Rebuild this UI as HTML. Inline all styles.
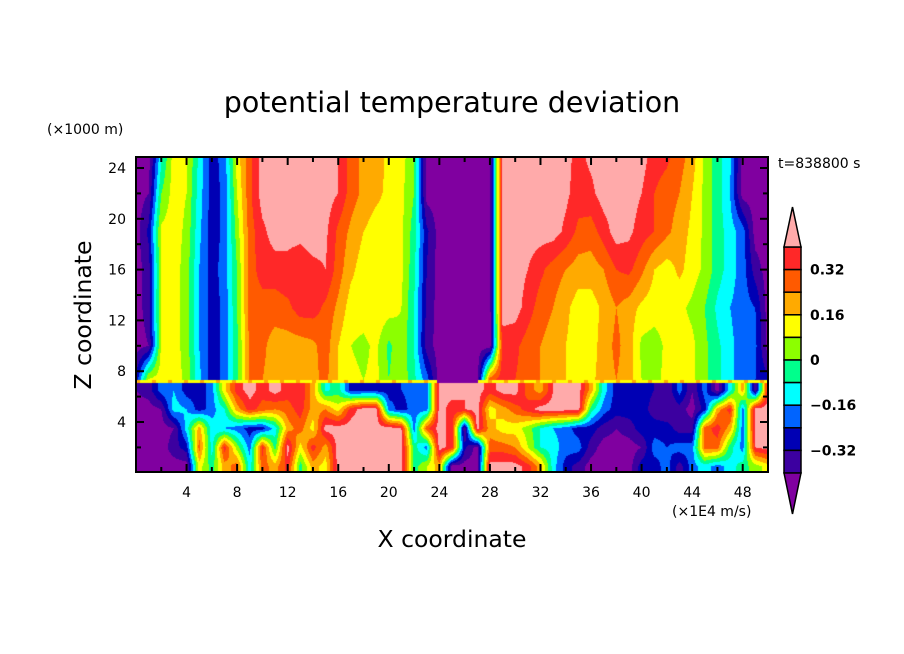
<!DOCTYPE html>
<html><head><meta charset="utf-8">
<style>
html,body{margin:0;padding:0;background:#fff;}
#wrap{position:relative;width:904px;height:654px;overflow:hidden;font-family:"Liberation Sans","DejaVu Sans",sans-serif;}
#heat{position:absolute;left:136px;top:157px;}
#ov{position:absolute;left:0;top:0;}
</style></head>
<body>
<div id="wrap">
<canvas id="heat" width="632" height="316"></canvas>
<svg id="ov" width="904" height="654" xmlns="http://www.w3.org/2000/svg">
<text x="452" y="112" text-anchor="middle" font-size="28.5" font-family="DejaVu Sans, Liberation Sans, sans-serif">potential temperature deviation</text>
<text x="47" y="134" font-size="14" font-family="DejaVu Sans, sans-serif">(×1000 m)</text>
<text x="778" y="168" font-size="14" font-family="DejaVu Sans, sans-serif">t=838800 s</text>
<text x="452" y="547" text-anchor="middle" font-size="23.5" font-family="DejaVu Sans, sans-serif">X coordinate</text>
<text x="672" y="516" font-size="14" font-family="DejaVu Sans, sans-serif">(×1E4 m/s)</text>
<text transform="translate(91,315) rotate(-90)" text-anchor="middle" font-size="23.5" font-family="DejaVu Sans, sans-serif">Z coordinate</text>
<g id="axes"></g>
<g id="cbar"></g>
</svg>
</div>
<script>
// ---- data (values in centi-K) ----
const zUpper = [7.3, 10, 13, 16, 19, 22, 25];
const thetaUpperZ7 = [-30,10,12,12,6,-14,-28,-22,-2,26,24,20,20,20,22,26,16,10,8,10,0,6,-6,-20,-44,-44,-44,-44,30,36,32,28,24,20,16,12,14,20,24,20,8,6,10,12,10,2,-6,-14,-20,-24,-30];
const thetaUpperZ10 = [-44,-40,10,12,4,-16,-28,-22,-2,26,26,20,20,20,22,28,16,8,6,10,-2,6,-8,-36,-44,-44,-44,-44,-44,36,34,28,24,20,16,12,12,20,26,20,6,4,10,12,10,2,-6,-14,-20,-22,-44];
const thetaUpperZ13 = [-44,-36,10,12,4,-16,-28,-22,0,28,28,28,30,36,36,30,22,12,12,14,12,8,-8,-34,-44,-44,-44,-44,-44,44,44,36,28,24,18,12,12,18,24,20,14,12,12,10,6,0,-10,-16,-20,-24,-44];
const thetaUpperZ16 = [-44,-36,8,12,4,-16,-28,-20,0,28,36,36,38,36,38,40,28,18,12,16,12,10,-6,-32,-44,-44,-44,-44,-44,44,44,40,34,28,24,20,20,24,32,34,26,16,12,18,12,6,-4,-12,-20,-36,-44];
const thetaUpperZ19 = [-44,-30,10,12,6,-14,-28,-22,4,28,38,44,42,42,44,42,30,22,16,12,12,10,-4,-30,-44,-44,-44,-44,-44,44,44,44,44,44,38,30,28,36,44,42,36,32,26,20,14,6,-4,-12,-20,-44,-44];
const thetaUpperZ22 = [-44,-40,0,12,8,-12,-28,-22,8,30,44,44,44,44,44,44,40,28,22,18,14,10,0,-44,-44,-44,-44,-44,-44,44,44,44,44,44,42,36,38,44,44,44,40,32,28,24,16,6,-4,-16,-44,-44,-44];
const thetaUpperZ25 = [-44,-44,-10,12,10,-10,-28,-20,12,30,44,44,44,44,44,44,40,28,22,20,14,12,0,-44,-44,-44,-44,-44,-44,44,44,44,44,44,42,38,42,44,44,44,44,36,34,28,20,6,-4,-14,-44,-44,-44];
const zLower = [0.5, 2, 3.5, 5, 6.5];
const thetaLowerZ05 = [-44,-44,-44,-44,-44,12,-4,20,28,-12,28,20,36,-4,20,12,44,44,44,44,44,44,-4,8,20,-44,-44,-44,44,44,44,36,20,-12,-28,-36,-44,-44,-44,-44,-28,-28,-20,-36,-20,-12,-20,-12,-4,4,12];
const thetaLowerZ2 = [-44,-44,-44,-36,-28,28,-12,36,4,-20,36,-4,44,12,36,20,44,44,44,44,44,44,-4,-20,44,36,-30,-44,28,28,24,8,-8,-12,-20,-20,-36,-44,-44,-44,-40,-20,-24,-20,-20,28,28,-4,-20,40,44];
const thetaLowerZ35 = [-44,-44,-44,-40,-12,20,-12,-16,-20,-28,-28,-12,20,28,12,44,44,44,44,44,44,40,-20,30,44,36,-40,44,20,12,12,4,-8,-16,-20,-28,-28,-36,-40,-36,-28,-28,-28,-36,-36,28,36,20,-20,44,44];
const thetaLowerZ5 = [-44,-44,-40,-12,-16,-28,-20,-8,20,36,28,24,28,36,20,24,12,36,44,44,-20,-28,-20,-20,44,36,40,44,12,20,28,36,44,44,44,44,-4,-20,-28,-28,-28,-36,-40,-36,-44,-28,20,36,-20,44,44];
const thetaLowerZ65 = [-40,-36,-20,-16,-28,-28,-20,14,36,44,36,44,36,40,20,-10,-4,-28,-28,-28,-28,-24,-20,-20,44,44,40,44,36,44,44,28,20,40,44,44,20,-12,-28,-28,-28,-32,-40,-20,-40,-20,-44,-12,20,-40,40];
const xTicks = [4, 8, 12, 16, 20, 24, 28, 32, 36, 40, 44, 48];
const yTicks = [4, 8, 12, 16, 20, 24];
const cbarLabels = ["0.32", "0.16", "0", "\u22120.16", "\u22120.32"];
const levelBounds = [-0.40,-0.32,-0.24,-0.16,-0.08,0,0.08,0.16,0.24,0.32,0.40];

const colors = ["#8000a0","#3c00a0","#0000b4","#0064ff","#00ffff","#00ff8c","#8cff00","#ffff00","#ffaa00","#ff5a00","#ff2828","#ffaaaa"];
const upperRows = [thetaUpperZ7,thetaUpperZ10,thetaUpperZ13,thetaUpperZ16,thetaUpperZ19,thetaUpperZ22,thetaUpperZ25];
const lowerRows = [thetaLowerZ05,thetaLowerZ2,thetaLowerZ35,thetaLowerZ5,thetaLowerZ65];

const X0=136, X1=768, Y0=157, Y1=472;
function xScale(v){return X0 + v*(X1-X0)/50;}
function yScale(z){return 472.8 - z*12.7;}
function xInv(px){return (px-X0)*50/(X1-X0);}
function zInv(py){return (472.8-py)/12.7;}

function sample(rows, zs, x, z){
  let n = rows[0].length;
  let ix = Math.max(0, Math.min(n-2, Math.floor(x))); let fx = Math.max(0,Math.min(1,x-ix));
  let iz = 0;
  if (z <= zs[0]) { iz=0; } else if (z >= zs[zs.length-1]) { iz = zs.length-2; } else { while (iz < zs.length-2 && z > zs[iz+1]) iz++; }
  let fz = (z - zs[iz])/(zs[iz+1]-zs[iz]); fz=Math.max(0,Math.min(1,fz));
  let a = rows[iz][ix]*(1-fx)+rows[iz][ix+1]*fx;
  let b = rows[iz+1][ix]*(1-fx)+rows[iz+1][ix+1]*fx;
  return (a*(1-fz)+b*fz)/100;
}
function levelOf(v){ let k=0; while(k<levelBounds.length && v>=levelBounds[k]) k++; return k; }
function hex(c){return [parseInt(c.slice(1,3),16),parseInt(c.slice(3,5),16),parseInt(c.slice(5,7),16)];}
const rgb = colors.map(hex);

(function draw(){
  const cv=document.getElementById('heat'); const ctx=cv.getContext('2d');
  const W=cv.width,H=cv.height; const img=ctx.createImageData(W,H);
  for(let py=0;py<H;py++){
    const z=zInv(Y0+py+0.5);
    for(let px=0;px<W;px++){
      const x=xInv(X0+px+0.5);
      let v, lv;
      if (z >= 7.1) {
        v = sample(upperRows, zUpper, x, z); lv = levelOf(v);
        if (z < 7.28 && lv > 0) lv = ((px>>2)%4===0) ? 8 : 7;
      } else {
        v = sample(lowerRows, zLower, x, z); lv = levelOf(v);
      }
      const c=rgb[lv]; const i=(py*W+px)*4;
      img.data[i]=c[0];img.data[i+1]=c[1];img.data[i+2]=c[2];img.data[i+3]=255;
    }
  }
  ctx.putImageData(img,0,0);
})();

(function axes(){
  const NS="http://www.w3.org/2000/svg"; const g=document.getElementById('axes');
  function el(tag,attrs,parent){const e=document.createElementNS(NS,tag);for(const k in attrs)e.setAttribute(k,attrs[k]);(parent||g).appendChild(e);return e;}
  const frame=el('rect',{x:X0,y:Y0,width:X1-X0,height:Y1-Y0,fill:'none',stroke:'#000','stroke-width':2});
  
  
  for(let v=2; v<50; v+=2){
    const major = xTicks.indexOf(v)>=0; const L = major?8:5; const px=xScale(v);
    const t1=el('line',{x1:px,x2:px,y1:Y1,y2:Y1-L,stroke:'#000','stroke-width':2});
    
    
    const t2=el('line',{x1:px,x2:px,y1:Y0,y2:Y0+L,stroke:'#000','stroke-width':2});
    
    
  }
  xTicks.forEach(v=>{
    const t=el('text',{x:xScale(v),y:497,'text-anchor':'middle','font-size':14,'font-family':'DejaVu Sans, sans-serif'});
    t.textContent=String(v);
    
    
  });
  for(let v=2; v<=24; v+=2){
    const major = yTicks.indexOf(v)>=0; const L = major?8:5; const py=yScale(v);
    const t1=el('line',{x1:X0,x2:X0+L,y1:py,y2:py,stroke:'#000','stroke-width':2});
    
    
    const t2=el('line',{x1:X1,x2:X1-L,y1:py,y2:py,stroke:'#000','stroke-width':2});
    
    
  }
  yTicks.forEach(v=>{
    const t=el('text',{x:126,y:yScale(v)+5,'text-anchor':'end','font-size':14,'font-family':'DejaVu Sans, sans-serif'});
    t.textContent=String(v);
    
    
  });
  // colorbar
  const cb=document.getElementById('cbar');
  const cx=784, cw=17, top=247, bh=22.6, n=10;
  for(let k=0;k<n;k++){
    const r=el('rect',{x:cx,y:top+k*bh,width:cw,height:bh,fill:colors[10-k],stroke:'#000','stroke-width':1.5},cb);
    
    
  }
  const tu=el('polygon',{points:`${cx},${top} ${cx+cw},${top} ${cx+cw/2},207`,fill:colors[11],stroke:'#000','stroke-width':1.5},cb);
  
  
  const bot=top+n*bh;
  const tb=el('polygon',{points:`${cx},${bot} ${cx+cw},${bot} ${cx+cw/2},${bot+41}`,fill:colors[0],stroke:'#000','stroke-width':1.5},cb);
  
  
  cbarLabels.forEach((s,i)=>{
    const t=el('text',{x:810,y:top+(1+2*i)*bh+5,'font-size':14,'font-weight':'bold','font-family':'DejaVu Sans, sans-serif'},cb);
    t.textContent=s;
    
    
  });
})();
</script>
</body></html>
